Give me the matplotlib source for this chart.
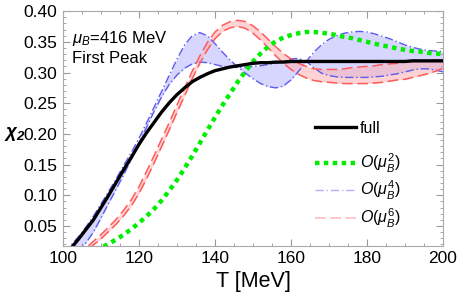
import matplotlib
matplotlib.use('Agg')
import matplotlib.pyplot as plt
import numpy as np
from matplotlib.lines import Line2D
from matplotlib.ticker import MultipleLocator

plt.rcParams['font.family'] = ['Liberation Sans', 'DejaVu Sans']
plt.rcParams['mathtext.fontset'] = 'custom'
plt.rcParams['mathtext.rm'] = 'Liberation Sans'
plt.rcParams['mathtext.it'] = 'Liberation Sans:italic'
plt.rcParams['mathtext.bf'] = 'Liberation Sans:bold:italic'

# temperature grid (MeV)
T = np.arange(100, 201, 2)

chi2_full = [0.005, 0.013, 0.028, 0.044, 0.060, 0.080, 0.100, 0.121, 0.142, 0.162,
             0.183, 0.202, 0.219, 0.236, 0.251, 0.264, 0.275, 0.285, 0.292, 0.298,
             0.303, 0.306, 0.309, 0.311, 0.313, 0.315, 0.316, 0.316, 0.317, 0.317,
             0.318, 0.318, 0.318, 0.318, 0.318, 0.318, 0.318, 0.318, 0.318, 0.318,
             0.318, 0.318, 0.318, 0.318, 0.318, 0.318, 0.319, 0.319, 0.319, 0.319, 0.319]

chi2_o2 = [-0.012, -0.009, -0.005, 0.000, 0.006, 0.014, 0.021, 0.028, 0.036, 0.045,
           0.055, 0.066, 0.078, 0.092, 0.108, 0.125, 0.144, 0.164, 0.185, 0.206,
           0.227, 0.247, 0.266, 0.285, 0.302, 0.318, 0.331, 0.342, 0.351, 0.357,
           0.361, 0.364, 0.366, 0.366, 0.365, 0.363, 0.361, 0.358, 0.356, 0.353,
           0.350, 0.347, 0.344, 0.342, 0.339, 0.337, 0.335, 0.334, 0.332, 0.331, 0.330]

chi2_o4_a = [0.008, 0.018, 0.032, 0.048, 0.066, 0.086, 0.106, 0.127, 0.149, 0.170,
             0.193, 0.218, 0.244, 0.270, 0.296, 0.322, 0.345, 0.360, 0.365, 0.360,
             0.347, 0.333, 0.320, 0.309, 0.299, 0.290, 0.282, 0.277, 0.275, 0.278,
             0.288, 0.302, 0.318, 0.333, 0.345, 0.354, 0.360, 0.364, 0.366, 0.367,
             0.366, 0.363, 0.359, 0.355, 0.350, 0.345, 0.341, 0.338, 0.336, 0.335, 0.334]

chi2_o4_b = [0.000, 0.004, 0.010, 0.022, 0.040, 0.063, 0.087, 0.110, 0.134, 0.159,
             0.185, 0.211, 0.237, 0.261, 0.281, 0.296, 0.307, 0.314, 0.317, 0.316,
             0.313, 0.310, 0.309, 0.308, 0.309, 0.310, 0.311, 0.313, 0.315, 0.318,
             0.322, 0.323, 0.318, 0.308, 0.299, 0.295, 0.293, 0.292, 0.292, 0.292,
             0.292, 0.293, 0.294, 0.296, 0.298, 0.301, 0.304, 0.306, 0.306, 0.304, 0.301]

chi2_o6_a = [-0.010, -0.003, 0.005, 0.014, 0.025, 0.036, 0.048, 0.061, 0.076, 0.093,
             0.114, 0.139, 0.165, 0.192, 0.219, 0.247, 0.275, 0.302, 0.327, 0.349,
             0.366, 0.377, 0.383, 0.385, 0.383, 0.376, 0.366, 0.354, 0.342, 0.331,
             0.322, 0.315, 0.310, 0.306, 0.305, 0.305, 0.305, 0.306, 0.308, 0.309,
             0.310, 0.311, 0.313, 0.314, 0.315, 0.317, 0.318, 0.318, 0.319, 0.320, 0.320]

chi2_o6_b = [-0.012, -0.006, 0.001, 0.009, 0.019, 0.029, 0.041, 0.053, 0.067, 0.083,
             0.103, 0.127, 0.153, 0.180, 0.207, 0.235, 0.262, 0.290, 0.315, 0.337,
             0.355, 0.367, 0.373, 0.375, 0.372, 0.364, 0.353, 0.340, 0.327, 0.315,
             0.305, 0.297, 0.291, 0.287, 0.285, 0.284, 0.283, 0.282, 0.282, 0.282,
             0.282, 0.283, 0.284, 0.286, 0.288, 0.289, 0.292, 0.295, 0.298, 0.302, 0.307]

legend_labels = ['full', r'$O(\mu_B^2)$', r'$O(\mu_B^4)$', r'$O(\mu_B^6)$']

fig = plt.figure(figsize=(4.6, 3.01), dpi=100)
ax = fig.add_axes([0.137, 0.183, 0.826, 0.780])

blue = '#5c5cf0'
red = '#ff5a5a'

ax.fill_between(T, chi2_o4_a, chi2_o4_b, color='#d6d6ff', lw=0, zorder=1)
ax.fill_between(T, chi2_o6_a, chi2_o6_b, color='#ffb0b0', alpha=0.55, lw=0, zorder=2)

ax.plot(T, chi2_o4_a, color=blue, lw=1.0, dashes=(6, 2, 1, 2), zorder=3)
ax.plot(T, chi2_o4_b, color=blue, lw=1.0, dashes=(6, 2, 1, 2), zorder=3)
ax.plot(T, chi2_o6_a, color=red, lw=1.1, dashes=(7, 3), zorder=3)
ax.plot(T, chi2_o6_b, color=red, lw=1.1, dashes=(7, 3), zorder=3)
ax.plot(T, chi2_o2, color='#00ee00', lw=3.2, dashes=(1.0, 1.0), zorder=4)
ax.plot(T, chi2_full, color='black', lw=2.4, zorder=5)

ax.set_xlim(100, 200)
ax.set_ylim(0.0175, 0.40)
ax.xaxis.set_major_locator(MultipleLocator(20))
ax.xaxis.set_minor_locator(MultipleLocator(5))
ax.yaxis.set_minor_locator(MultipleLocator(0.01))
ax.set_yticks([0.05, 0.10, 0.15, 0.20, 0.25, 0.30, 0.35, 0.40])
ax.set_yticklabels(['0.05', '0.10', '0.15', '0.20', '0.25', '0.30', '0.35', '0.40'])
ax.tick_params(which='both', direction='in', top=True, right=True, color='#999999',
               labelsize=12.5, pad=4)
ax.tick_params(which='major', length=5, width=0.8)
ax.tick_params(which='minor', length=2.5, width=0.6)
for s in ax.spines.values():
    s.set_color('#aaaaaa')
    s.set_linewidth(0.8)

ax.set_xlabel('T [MeV]', fontsize=15.5, labelpad=3)
fig.text(0.008, 0.555, r'$\mathbf{\chi_2}$', fontsize=13.5, ha='left', va='center')

ax.text(0.024, 0.885, r'$\mu_B$=416 MeV', transform=ax.transAxes, fontsize=12, va='center')
ax.text(0.024, 0.800, 'First Peak', transform=ax.transAxes, fontsize=12, va='center')

handles = [
    Line2D([], [], color='black', lw=2.4),
    Line2D([], [], color='#00ee00', lw=3.2, dashes=(1.0, 1.0)),
    Line2D([], [], color='#b0b0ff', lw=1.0, dashes=(6, 2, 1, 2)),
    Line2D([], [], color='#ffb8b8', lw=1.1, dashes=(7, 3)),
]
# "full" sits a bit apart from the expansion orders, as in the original
leg1 = ax.legend(handles[:1], legend_labels[:1], loc='center left',
                 bbox_to_anchor=(0.625, 0.50), frameon=False, fontsize=11.5,
                 handlelength=2.6, handletextpad=0.2)
ax.add_artist(leg1)
ax.legend(handles[1:], legend_labels[1:], loc='center left',
          bbox_to_anchor=(0.625, 0.235), frameon=False, fontsize=11.5,
          handlelength=2.6, handletextpad=0.2, labelspacing=0.27)

fig.savefig('out.png', dpi=100)
